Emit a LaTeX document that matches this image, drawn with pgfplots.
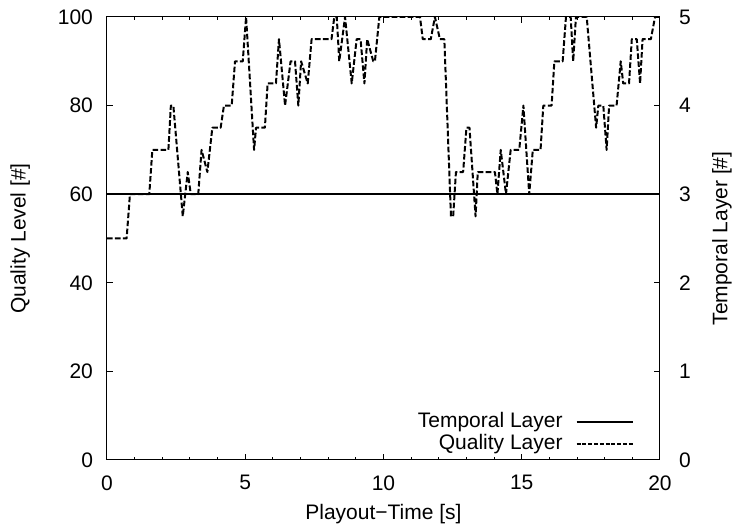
\documentclass[border=0pt]{standalone}
\usepackage{fontspec}
\setmainfont{Liberation Sans}
\usepackage{pgfplots}
\usepackage{pgfplotstable}
\pgfplotsset{compat=1.18}

% quality layer over playout time
\pgfplotstableread{
t q
0 50
0.71 50
0.83 60
1.53 60
1.64 70
2.22 70
2.31 80
2.40 80
2.74 55
2.92 65
3.03 60
3.30 60
3.42 70
3.63 65
3.81 75
4.11 75
4.23 80
4.51 80
4.63 90
4.91 90
5.03 100
5.32 70
5.39 75
5.71 75
5.81 85
6.11 85
6.22 95
6.44 80
6.64 90
6.80 90
6.92 80
7.02 90
7.26 85
7.40 95
8.12 95
8.22 100
8.31 100
8.40 90
8.61 100
8.85 85
9.03 95
9.17 95
9.31 85
9.41 95
9.63 90
9.69 90
9.85 100
11.32 100
11.42 95
11.71 95
11.86 100
12.04 95
12.20 95
12.44 55
12.52 55
12.62 65
12.88 65
13.00 75
13.11 75
13.33 55
13.41 65
14.03 65
14.12 60
14.24 70
14.43 60
14.60 70
14.91 70
15.06 80
15.27 60
15.40 70
15.68 70
15.78 80
16.08 80
16.18 90
16.48 90
16.60 100
16.77 100
16.86 90
16.96 100
17.35 100
17.69 75
17.77 80
17.95 80
18.07 70
18.16 80
18.43 80
18.58 90
18.67 85
18.88 85
18.98 95
19.16 95
19.28 85
19.37 95
19.67 95
19.82 100
20 100
}\quality

\begin{document}
\begin{tikzpicture}
\pgfplotsset{
  base/.style={
    width=276.5pt, height=221.5pt, scale only axis,
    at={(0,0)}, anchor=south west,
    xmin=0, xmax=20,
    tick align=inside,
    major tick length=3pt, minor tick length=1.5pt,
    /pgf/number format/assume math mode=true,
    ticklabel style={font=\fontsize{10.5}{12}\selectfont},
    label style={font=\fontsize{10.5}{12}\selectfont},
    axis line style={line width=0.5pt},
    every tick/.style={line width=0.5pt, black},
  },
}
\begin{axis}[base,
    ymin=0, ymax=100,
    xtick={0,5,10,15,20}, minor x tick num=4,
    ytick={0,20,40,60,80,100},
    ytick pos=left, xtick pos=both,
    yticklabel style={xshift=-3.5pt},
    xticklabel style={yshift=-4.2pt},
    xlabel={Playout−Time [s]},
    ylabel={Quality Level [\#]},
    xlabel style={at={(axis description cs:0.5,-0.122)}, anchor=center},
    ylabel style={at={(axis description cs:-0.157,0.5)}, anchor=center},
]
\addplot[black, line width=1pt, line join=round, dash pattern=on 2.8pt off 1.2pt] table[x=t, y=q] {\quality};
\end{axis}
\begin{axis}[base,
    ymin=0, ymax=5,
    ytick={0,1,2,3,4,5},
    hide x axis,
    axis y line*=right,
    yticklabel style={xshift=6pt},
    ylabel={Temporal Layer [\#]},
    ylabel style={at={(axis description cs:1.112,0.5)}, anchor=center},
    legend plot pos=right,
    legend cell align=right,
    legend style={at={(axis description cs:0.953,0.006)}, anchor=south east,
      draw=none, fill=none, inner sep=0pt, row sep=-2pt, column sep=4.5pt,
      font=\fontsize{10.5}{11}\selectfont},
    legend image code/.code={\draw[#1] (0pt,0pt) -- (28pt,0pt);},
]
\addplot[black, line width=1pt] coordinates {(0,3) (20,3)};
\addlegendentry{Temporal Layer}
\addlegendimage{black, line width=0.8pt, dash pattern=on 2pt off 0.9pt}
\addlegendentry{Quality Layer}
\end{axis}
\pgfresetboundingbox
\path[use as bounding box] (-53.5pt,-32pt) rectangle (314pt,230pt);
\end{tikzpicture}
\end{document}
